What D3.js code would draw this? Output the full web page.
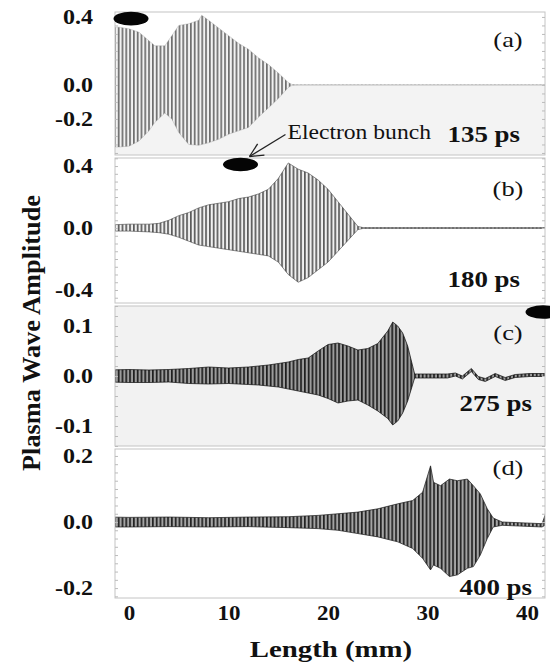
<!DOCTYPE html>
<html>
<head>
<meta charset="UTF-8">
<title>Plasma Wave Amplitude</title>
<script src="https://cdn.jsdelivr.net/npm/d3@7"></script>
<style>
  body { margin: 0; background: #fff; }
  svg text { font-family: "Liberation Serif", "Times New Roman", serif; fill: #111; }
</style>
</head>
<body>
<div id="chart"></div>
<script>
// --- data (envelope of the plasma wave, per snapshot) ---
var panelNames = ["(a)", "(b)", "(c)", "(d)"];
var panelTimes = ["135 ps", "180 ps", "275 ps", "400 ps"];
var lengthTicks = [0, 10, 20, 30, 40];
var ampTicks = [[0.4, 0.0, -0.2], [0.4, 0.0, -0.4], [0.1, 0.0, -0.1], [0.2, 0.0, -0.2]];
var ampDomains = [[-0.412, 0.429], [-0.484, 0.452], [-0.14, 0.14], [-0.23, 0.221]];

var xA = [-2, -1, 0, 1, 2, 2.6, 3.6, 4.3, 5, 6, 7, 7.3, 8, 9, 10, 11, 12, 13, 14, 15, 16, 16.4, 17, 42];
var upperA = [0.34, 0.34, 0.33, 0.31, 0.26, 0.23, 0.23, 0.29, 0.35, 0.36, 0.38, 0.41, 0.38, 0.335, 0.29, 0.245, 0.21, 0.16, 0.12, 0.07, 0.015, 0.002, 0.001, 0.001];
var lowerA = [-0.365, -0.365, -0.36, -0.33, -0.27, -0.22, -0.165, -0.2, -0.28, -0.35, -0.355, -0.35, -0.34, -0.32, -0.29, -0.27, -0.25, -0.19, -0.135, -0.08, -0.015, -0.002, -0.001, -0.001];

var xB = [-2, 0, 2, 3, 4, 5, 6, 7, 8, 9, 10, 11, 12, 13, 14, 15, 16, 17, 18, 19, 20, 21, 22, 23, 23.5, 42];
var upperB = [0.02, 0.025, 0.025, 0.03, 0.05, 0.08, 0.10, 0.13, 0.15, 0.16, 0.17, 0.19, 0.20, 0.22, 0.25, 0.32, 0.42, 0.38, 0.355, 0.31, 0.25, 0.17, 0.09, 0.01, 0.003, 0.003];
var lowerB = [-0.02, -0.02, -0.025, -0.03, -0.04, -0.06, -0.085, -0.11, -0.12, -0.13, -0.14, -0.15, -0.16, -0.17, -0.18, -0.22, -0.30, -0.35, -0.32, -0.27, -0.22, -0.15, -0.08, -0.01, -0.003, -0.003];

var xC = [-2, 0, 2, 4, 6, 8, 10, 12, 13, 14, 15, 16, 17, 18, 19, 20, 21, 22, 23, 24, 25, 26, 26.5, 27, 27.5, 28, 28.7, 29, 32, 32.8, 33.5, 34.4, 35.1, 35.8, 36.3, 36.8, 37.8, 38.8, 40.3, 42];
var upperC = [0.012, 0.013, 0.012, 0.013, 0.015, 0.018, 0.016, 0.018, 0.02, 0.022, 0.025, 0.028, 0.033, 0.036, 0.05, 0.063, 0.066, 0.06, 0.052, 0.055, 0.065, 0.09, 0.108, 0.1, 0.086, 0.06, 0.004, 0.004, 0.004, 0.006, 0.0, 0.015, -0.001, -0.005, 0.0, 0.005, -0.003, 0.003, 0.005, 0.005];
var lowerC = [-0.012, -0.013, -0.013, -0.012, -0.015, -0.016, -0.015, -0.017, -0.018, -0.02, -0.022, -0.026, -0.03, -0.034, -0.038, -0.045, -0.054, -0.05, -0.048, -0.058, -0.07, -0.085, -0.098, -0.09, -0.074, -0.05, -0.004, -0.004, -0.004, 0.0, -0.006, 0.009, -0.007, -0.011, -0.006, -0.001, -0.009, -0.003, -0.001, -0.001];

var xD = [-2, 0, 4, 8, 12, 16, 19, 21, 23, 25, 27, 28.5, 29.5, 30.3, 30.6, 31.3, 32.2, 33, 34, 34.6, 35.3, 36, 36.6, 37.5, 41.5, 41.8];
var upperD = [0.015, 0.014, 0.015, 0.013, 0.015, 0.016, 0.02, 0.025, 0.03, 0.04, 0.055, 0.065, 0.09, 0.17, 0.12, 0.11, 0.13, 0.125, 0.13, 0.11, 0.085, 0.04, 0.012, 0.0, -0.005, 0.02];
var lowerD = [-0.015, -0.015, -0.014, -0.015, -0.014, -0.017, -0.02, -0.025, -0.035, -0.045, -0.06, -0.08, -0.11, -0.145, -0.13, -0.14, -0.165, -0.16, -0.14, -0.135, -0.1, -0.05, -0.015, -0.01, -0.015, -0.01];

// electron bunch positions (mm, amplitude) for panels a, b, c
var bunchX = [0.2, 11.2, 41.6];
var bunchY = [0.39, 0.41, 0.128];

var xs = [xA, xB, xC, xD];
var uppers = [upperA, upperB, upperC, upperD];
var lowers = [lowerA, lowerB, lowerC, lowerD];

// --- layout ---
var W = 550, H = 662;
var left = 115, right = 545;
var tops = [12, 158, 306, 449];
var bottoms = [155, 303, 446, 598];
var nameY = [47, 196, 340, 475];
var timeY = [142, 287, 411, 595];
var timeX = [520, 520, 532, 532];
var inkLine = ["#6e6e6e", "#5a5a5a", "#1e1e1e", "#222"];
var inkGap = ["#f2f2f2", "#f0f0f0", "#9c9c9c", "#a4a4a4"];
var edge = ["#8a8a8a", "#333", "#111", "#1a1a1a"];
var edgeOp = [0.35, 0.6, 0.8, 0.8];
var minorStep = [0.05, 0.05, 0.02, 0.025];

var svg = d3.select("#chart").append("svg").attr("width", W).attr("height", H);
var defs = svg.append("defs");

var x = d3.scaleLinear().domain([-1.41, 41.8]).range([left, right]);

function stretch(sel, f) {
    sel.each(function () {
        var w = this.getComputedTextLength();
        d3.select(this).attr("textLength", w * f).attr("lengthAdjust", "spacingAndGlyphs");
    });
}

var yScales = [];

for (var k = 0; k < 4; k++) {
    var y = d3.scaleLinear().domain(ampDomains[k]).range([bottoms[k], tops[k]]);
    yScales.push(y);
    var g = svg.append("g");

    // backgrounds (scan tint)
    if (k == 2) {
        g.append("rect").attr("x", left).attr("y", tops[k]).attr("width", right - left)
            .attr("height", bottoms[k] - tops[k]).attr("fill", "#f2f2f2");
    }
    if (k == 0) {
        g.append("rect").attr("x", left).attr("y", y(0)).attr("width", right - left)
            .attr("height", bottoms[k] - y(0)).attr("fill", "#f3f3f3");
    }

    // oscillation fill pattern
    var pat = defs.append("pattern").attr("id", "osc" + k)
        .attr("patternUnits", "userSpaceOnUse").attr("width", 3.8).attr("height", 10);
    pat.append("rect").attr("width", 3.8).attr("height", 10).attr("fill", inkGap[k]);
    pat.append("rect").attr("width", 1.7).attr("height", 10).attr("fill", inkLine[k]);

    defs.append("clipPath").attr("id", "clip" + k).append("rect")
        .attr("x", left).attr("y", tops[k] - 6).attr("width", right - left).attr("height", bottoms[k] - tops[k] + 6);

    var idx = d3.range(xs[k].length);
    var area = d3.area()
        .x(function (i) { return x(xs[k][i]); })
        .y0(function (i) { return y(lowers[k][i]); })
        .y1(function (i) { return y(uppers[k][i]); });

    g.append("path").datum(idx)
        .attr("clip-path", "url(#clip" + k + ")")
        .attr("d", area)
        .attr("fill", "url(#osc" + k + ")")
        .attr("stroke", edge[k])
        .attr("stroke-width", 0.9)
        .attr("stroke-opacity", edgeOp[k]);

    // frame
    g.append("rect").attr("x", left).attr("y", tops[k]).attr("width", right - left)
        .attr("height", bottoms[k] - tops[k]).attr("fill", "none").attr("stroke", "#c4c4c4").attr("stroke-width", 1);

    // minor ticks on both sides
    var minor = d3.range(Math.ceil(ampDomains[k][0] / minorStep[k]), Math.floor(ampDomains[k][1] / minorStep[k]) + 1)
        .map(function (i) { return i * minorStep[k]; });
    var lt = g.append("g").attr("transform", "translate(" + left + ",0)")
        .call(d3.axisLeft(y).tickValues(minor).tickSize(-3).tickFormat(""));
    var rt = g.append("g").attr("transform", "translate(" + right + ",0)")
        .call(d3.axisRight(y).tickValues(minor).tickSize(-3).tickFormat(""));
    [lt, rt].forEach(function (s) {
        s.select(".domain").remove();
        s.selectAll("line").attr("stroke", "#bbb");
    });

    // amplitude labels
    var ax = g.append("g").attr("transform", "translate(" + left + ",0)")
        .call(d3.axisLeft(y).tickValues(ampTicks[k]).tickSize(0).tickPadding(22)
            .tickFormat(function (d) { return d.toFixed(1); }));
    ax.select(".domain").remove();
    ax.selectAll("text").attr("font-size", 20).attr("font-weight", "bold")
        .attr("font-family", "Liberation Serif, serif").attr("fill", "#111");
    stretch(ax.selectAll("text"), 1.2);

    g.append("text").attr("x", 508).attr("y", nameY[k]).attr("text-anchor", "middle")
        .attr("font-size", 22).text(panelNames[k]).call(stretch, 1.2);
    g.append("text").attr("x", timeX[k]).attr("y", timeY[k]).attr("text-anchor", "end")
        .attr("font-size", 24).attr("font-weight", "bold").text(panelTimes[k]).call(stretch, 1.12);
}

// length axis
var xa = svg.append("g").attr("transform", "translate(0," + bottoms[3] + ")")
    .call(d3.axisBottom(x).tickValues(lengthTicks).tickSize(0).tickPadding(8).tickFormat(d3.format("d")));
xa.select(".domain").remove();
xa.selectAll("text").attr("font-size", 20).attr("font-weight", "bold")
    .attr("font-family", "Liberation Serif, serif").attr("fill", "#111");
stretch(xa.selectAll("text"), 1.15);

svg.append("text").attr("x", 331).attr("y", 657).attr("text-anchor", "middle")
    .attr("font-size", 24).attr("font-weight", "bold").text("Length (mm)").call(stretch, 1.2);

svg.append("text").attr("transform", "translate(40,333) rotate(-90)").attr("text-anchor", "middle")
    .attr("font-size", 25).attr("font-weight", "bold").text("Plasma Wave Amplitude")
    .attr("textLength", 276).attr("lengthAdjust", "spacingAndGlyphs");

// electron bunches
bunchX.forEach(function (bx, i) {
    svg.append("ellipse").attr("cx", x(bx)).attr("cy", yScales[i](bunchY[i]))
        .attr("rx", 17.5).attr("ry", 6.8).attr("fill", "#050505");
});

// "Electron bunch" annotation with arrow to bunch (b)
var tipX = x(bunchX[1]) + 9, tipY = yScales[1](bunchY[1]) - 8;
var tailX = tipX + 36, tailY = tipY - 22;
var ang = Math.atan2(tailY - tipY, tailX - tipX);
var arrow = svg.append("g").attr("stroke", "#222").attr("stroke-width", 1.3).attr("fill", "none");
arrow.append("line").attr("x1", tailX).attr("y1", tailY).attr("x2", tipX).attr("y2", tipY);
[-0.45, 0.45].forEach(function (da) {
    arrow.append("line").attr("x1", tipX).attr("y1", tipY)
        .attr("x2", tipX + 15 * Math.cos(ang + da)).attr("y2", tipY + 15 * Math.sin(ang + da));
});
svg.append("text").attr("x", tailX + 2).attr("y", 139).attr("font-size", 20)
    .text("Electron bunch").call(stretch, 1.18);
</script>
</body>
</html>
